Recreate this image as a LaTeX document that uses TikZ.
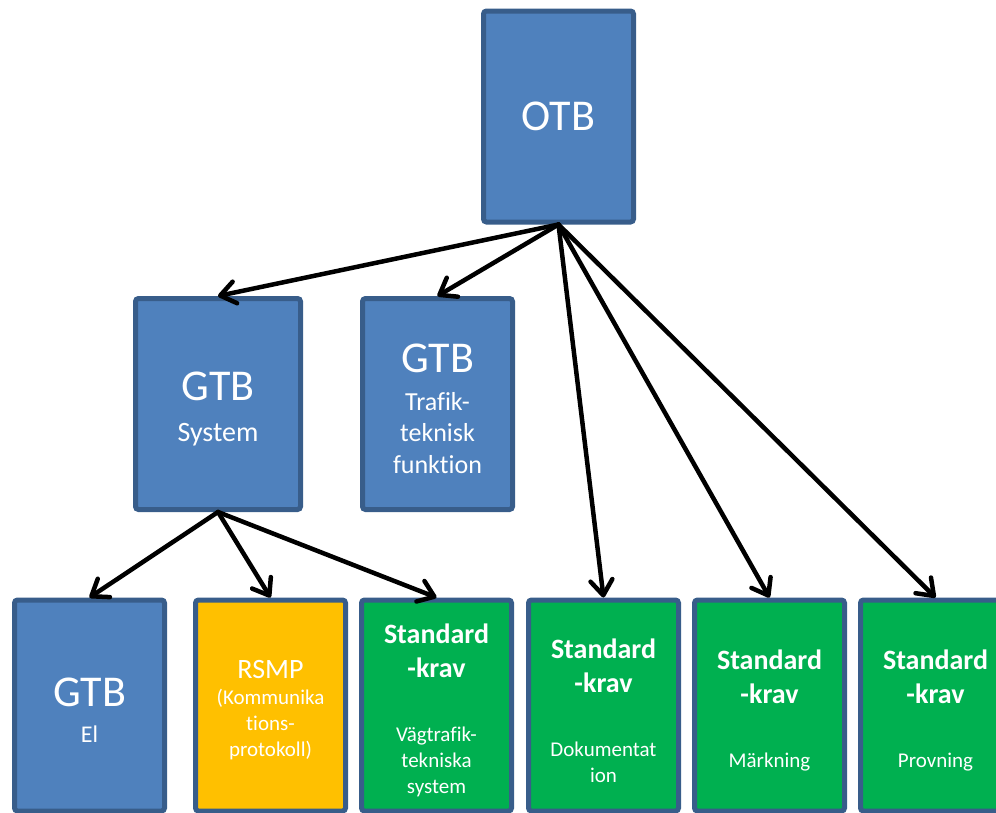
\documentclass[tikz,border=0pt]{standalone}
\usepackage{fontspec}
\setmainfont{Carlito}[Ligatures=NoCommon]
\usetikzlibrary{arrows.meta}
\definecolor{boxblue}{HTML}{4F81BD}
\definecolor{boxline}{HTML}{385D8A}
\definecolor{rsmpyellow}{HTML}{FFC000}
\definecolor{kravgreen}{HTML}{00B050}
\newcommand\titlefont{\fontsize{44}{53}\selectfont}
\newcommand\kravfont{\bfseries\fontsize{28}{34}\selectfont}
\newcommand\notefont{\fontsize{21}{26}\selectfont}
\tikzset{
	box/.style={draw=boxline, line width=5pt, rounded corners=3pt,
		minimum width=150pt, minimum height=211pt, inner sep=0pt},
	bluebox/.style={box, fill=boxblue},
	rsmpbox/.style={box, fill=rsmpyellow},
	kravbox/.style={box, fill=kravgreen},
	boxtext/.style={text=white, text width=150pt, align=center, inner sep=0pt, yshift=-5pt},
	link/.style={line width=4.5pt, line cap=round, line join=round,
		-{Straight Barb[length=15pt,width=22pt,round]}}
}
\begin{document}
\begin{tikzpicture}[x=1pt,y=-1pt]
	\useasboundingbox (0,0) rectangle (996,812);
	\path node (otb) at (558.5,116.5) [bluebox] {}
		  node (sys) at (218,404) [bluebox, minimum width=165pt] {}
		  node (traf) at (437.5,404) [bluebox] {}
		  node (el) at (89.5,705.5) [bluebox] {}
		  node (rsmp) at (270.5,705.5) [rsmpbox] {}
		  node (vag) at (436.5,705.5) [kravbox] {}
		  node (dok) at (603.5,705.5) [kravbox] {}
		  node (mark) at (769.5,705.5) [kravbox] {}
		  node (prov) at (935.5,705.5) [kravbox] {};
	\path node (otbtext) at (otb) [boxtext, yshift=5pt] {\titlefont OTB}
		  node (systext) at (sys) [boxtext] {{\titlefont GTB\par}{\fontsize{28}{41}\selectfont System\par}}
		  node (traftext) at (traf) [boxtext] {{\titlefont GTB\par}\vskip6pt{\fontsize{26}{31.5}\selectfont Trafik-\\teknisk\\funktion\par}}
		  node (eltext) at (el) [boxtext] {{\titlefont GTB\par}{\fontsize{24}{36}\selectfont El\par}}
		  node (rsmptext) at (rsmp) [boxtext] {{\fontsize{28}{34}\selectfont RSMP\par}{\notefont (Kommunika\\tions-\\protokoll)\par}}
		  node (vagtext) at (vag) [boxtext] {{\kravfont Standard\\-krav\par}\vskip38pt{\notefont Vägtrafik-\\tekniska\\system\par}}
		  node (doktext) at (dok) [boxtext] {{\kravfont Standard\\-krav\par}\vskip38pt{\notefont Dokumentat\\ion\par}}
		  node (marktext) at (mark) [boxtext] {{\kravfont Standard\\-krav\par}\vskip38pt{\notefont Märkning\par}}
		  node (provtext) at (prov) [boxtext] {{\kravfont Standard\\-krav\par}\vskip38pt{\notefont Provning\par}};
	\draw [link] (otb.south) -- (sys.north);
	\draw [link] (otb.south) -- (traf.north);
	\draw [link] (otb.south) -- (dok.north);
	\draw [link] (otb.south) -- (mark.north);
	\draw [link] (otb.south) -- (prov.north);
	\draw [link] (sys.south) -- (el.north);
	\draw [link] (sys.south) -- (rsmp.north);
	\draw [link] (sys.south) -- (vag.north);
\end{tikzpicture}
\end{document}
